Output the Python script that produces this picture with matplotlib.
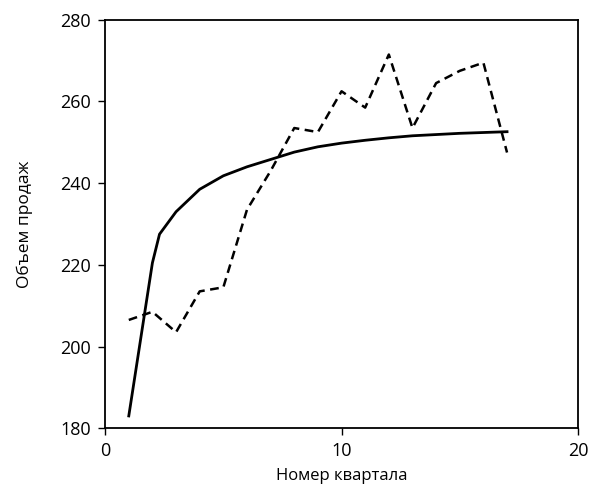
import matplotlib.pyplot as plt

plt.rcParams['font.family'] = ['Open Sans', 'DejaVu Sans']

# actual sales by quarter (dashed)
quarters = [1, 2, 3, 4, 5, 6, 7, 8, 9, 10, 11, 12, 13, 14, 15, 16, 17]
sales = [206.5, 208.5, 203.5, 213.5, 214.5, 233.5, 243, 253.5, 252.5, 262.5,
         258.5, 271.5, 253.5, 264.5, 267.5, 269.5, 247.5]

# fitted trend (solid)
trend_x = [1, 2, 2.3, 3, 4, 5, 6, 7, 8, 9, 10, 11, 12, 13, 14, 15, 16, 17]
trend_y = [183, 220.5, 227.5, 233, 238.5, 241.8, 244, 245.8, 247.6, 248.9, 249.8,
           250.5, 251.1, 251.6, 251.9, 252.2, 252.4, 252.6]

fig = plt.figure(figsize=(5.94, 4.95), dpi=100)
ax = fig.add_axes([0.177, 0.135, 0.796, 0.825])

ax.plot(trend_x, trend_y, color="black", lw=2.0)
ax.plot(quarters, sales, color="black", lw=1.8, ls=(0, (3.5, 2.2)))

ax.set_xlim(0, 20)
ax.set_ylim(180, 280)
ax.set_xticks([0, 10, 20])
ax.set_yticks([180, 200, 220, 240, 260, 280])
ax.tick_params(direction="out", length=5, width=1, labelsize=13, pad=5)
for s in ax.spines.values():
    s.set_linewidth(1.3)

ax.set_xlabel("Номер квартала", fontsize=12, labelpad=6)
ax.set_ylabel("Объем продаж", fontsize=12.5, labelpad=20)

fig.savefig("out.png", dpi=100)
plt.close()
